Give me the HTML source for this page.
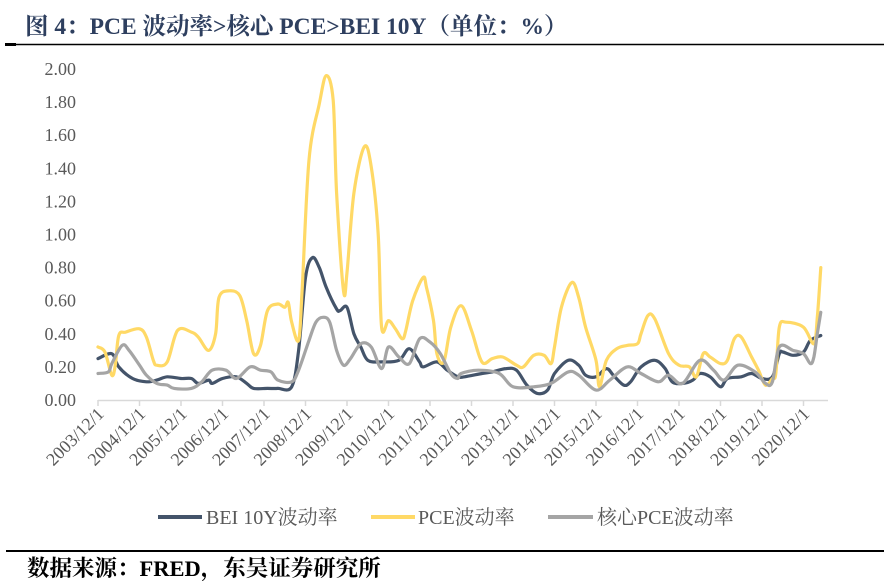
<!DOCTYPE html>
<html><head><meta charset="utf-8"><style>
body{margin:0;background:#fff;}
svg{display:block;}
</style></head><body>
<svg width="884" height="585" viewBox="0 0 884 585" xmlns="http://www.w3.org/2000/svg">
<text x="25" y="34" font-family="'Liberation Serif','Noto Serif CJK SC',serif" font-weight="bold" font-size="23.5" fill="#2e3f5f">图 4：PCE 波动率&gt;核心 PCE&gt;BEI 10Y（单位：%）</text>
<line x1="5" y1="44.5" x2="884" y2="44.5" stroke="#000" stroke-width="1.5"/>
<rect x="5" y="43" width="11" height="3" fill="#000"/>
<g id="yaxis"></g>
<g id="xaxis"></g>
<g id="series"></g>
<g font-family="'Liberation Serif','Noto Serif CJK SC',serif" font-size="20" fill="#595959">
<g><line x1="158" y1="517" x2="202" y2="517" stroke="#44546a" stroke-width="4"/><text x="206" y="524">BEI 10Y波动率</text></g>
<g><line x1="371" y1="517" x2="415" y2="517" stroke="#ffd966" stroke-width="4"/><text x="418" y="524">PCE波动率</text></g>
<g><line x1="548" y1="517" x2="593" y2="517" stroke="#a5a5a5" stroke-width="4"/><text x="597" y="524">核心PCE波动率</text></g>
</g>
<line x1="6" y1="551" x2="884" y2="551" stroke="#000" stroke-width="2"/>
<text x="27" y="576" font-family="'Liberation Serif','Noto Serif CJK SC',serif" font-weight="bold" font-size="22.5" fill="#000">数据来源：FRED，东吴证券研究所</text>
</svg>
<script>
// months since 2003/12
const bMonths=[0,4,6,10,14,17,20,24,27,29,32,33,36,40,43,45,49,52,56,58,60,62,64,66,69,70,72,74,76,78,82,87,90,93,94,98,101,104,106,111,114,118,121,124,127,130,132,136,139,141,144,147,149,152,154,157,161,164,166,169,172,174,177,180,182,186,189,192,195,197,198,201,204,206,209];
const beiValues=[0.25,0.28,0.20,0.13,0.11,0.12,0.14,0.13,0.13,0.10,0.12,0.10,0.13,0.14,0.10,0.07,0.07,0.07,0.08,0.30,0.74,0.86,0.80,0.68,0.55,0.54,0.56,0.40,0.32,0.24,0.23,0.24,0.31,0.23,0.20,0.23,0.18,0.14,0.14,0.16,0.17,0.19,0.18,0.09,0.04,0.06,0.16,0.24,0.21,0.15,0.14,0.19,0.15,0.09,0.11,0.20,0.24,0.19,0.11,0.10,0.12,0.16,0.14,0.08,0.13,0.14,0.16,0.13,0.14,0.28,0.29,0.27,0.29,0.36,0.39];
const pMonths=[0,2,4,5,6,8,12,14,16,17,20,23,27,29,32,34,35,38,41,43,45,47,49,52,54,55,56,58,59,61,64,66,68,69,71,72,74,77,79,81,82,84,86,88,89,91,94,95,97,98,100,102,105,108,111,114,117,121,123,126,129,131,132,134,137,139,141,144,145,147,150,153,156,157,159,161,165,168,171,173,175,177,180,182,184,186,189,191,193,195,196,197,199,204,207,208,209];
const pceValues=[0.32,0.29,0.15,0.21,0.39,0.41,0.43,0.38,0.24,0.21,0.23,0.42,0.41,0.38,0.30,0.40,0.62,0.66,0.63,0.48,0.28,0.33,0.54,0.58,0.56,0.59,0.47,0.36,0.65,1.45,1.79,1.96,1.81,1.25,0.66,0.77,1.25,1.53,1.41,1.01,0.44,0.48,0.43,0.37,0.42,0.60,0.74,0.68,0.48,0.28,0.23,0.44,0.57,0.42,0.23,0.25,0.26,0.21,0.20,0.27,0.27,0.22,0.32,0.56,0.71,0.62,0.44,0.24,0.08,0.24,0.31,0.33,0.34,0.40,0.51,0.49,0.28,0.21,0.20,0.14,0.28,0.26,0.22,0.24,0.37,0.38,0.26,0.18,0.09,0.13,0.16,0.44,0.47,0.44,0.34,0.50,0.80];
const cMonths=[0,3,4,7,9,12,14,17,20,22,27,30,33,37,40,44,47,50,52,56,58,61,63,65,67,69,71,73,76,79,82,84,87,90,93,96,99,102,104,105,110,116,120,126,131,136,139,144,148,153,157,162,165,169,174,178,181,185,190,193,195,197,201,204,206,207,208,209];
const coreValues=[0.16,0.17,0.22,0.33,0.30,0.21,0.15,0.10,0.09,0.07,0.07,0.11,0.18,0.18,0.13,0.20,0.18,0.17,0.12,0.11,0.18,0.36,0.47,0.50,0.47,0.30,0.21,0.25,0.34,0.32,0.19,0.32,0.26,0.22,0.37,0.35,0.28,0.16,0.13,0.16,0.18,0.16,0.08,0.08,0.10,0.17,0.15,0.06,0.12,0.20,0.16,0.11,0.15,0.10,0.24,0.18,0.12,0.21,0.17,0.10,0.11,0.32,0.30,0.28,0.22,0.26,0.40,0.53];
const yTicks=[0,0.2,0.4,0.6,0.8,1.0,1.2,1.4,1.6,1.8,2.0];
const xTickLabels=["2003/12/1","2004/12/1","2005/12/1","2006/12/1","2007/12/1","2008/12/1","2009/12/1","2010/12/1","2011/12/1","2012/12/1","2013/12/1","2014/12/1","2015/12/1","2016/12/1","2017/12/1","2018/12/1","2019/12/1","2020/12/1"];

const NS="http://www.w3.org/2000/svg";
const X0=98, YEARW=41.5, Y0=400, YTOP=69;
function xs(m){return X0+m/12*YEARW;}
function ys(v){return Y0-(v/2)*(Y0-YTOP);}
const font="'Liberation Serif','Noto Serif CJK SC',serif";
const yg=document.getElementById('yaxis');
yTicks.forEach(v=>{
  const t=document.createElementNS(NS,'text');
  
  
  t.setAttribute('x',76);t.setAttribute('y',ys(v)+6);
  t.setAttribute('text-anchor','end');t.setAttribute('font-family',font);
  t.setAttribute('font-size','18');t.setAttribute('fill','#595959');
  t.textContent=v.toFixed(2);yg.appendChild(t);
});
const xg=document.getElementById('xaxis');
const ax=document.createElementNS(NS,'line');


ax.setAttribute('x1',X0);ax.setAttribute('x2',828);ax.setAttribute('y1',Y0+0.5);ax.setAttribute('y2',Y0+0.5);
ax.setAttribute('stroke','#d9d9d9');ax.setAttribute('stroke-width','1.5');xg.appendChild(ax);
xTickLabels.forEach((lab,i)=>{
  const x=xs(i*12);
  const tk=document.createElementNS(NS,'line');
  
  
  tk.setAttribute('x1',x);tk.setAttribute('x2',x);tk.setAttribute('y1',Y0);tk.setAttribute('y2',Y0+6);
  tk.setAttribute('stroke','#d9d9d9');tk.setAttribute('stroke-width','1.5');xg.appendChild(tk);
  const t=document.createElementNS(NS,'text');
  
  
  t.setAttribute('text-anchor','end');t.setAttribute('font-family',font);
  t.setAttribute('font-size','18');t.setAttribute('fill','#595959');
  t.setAttribute('transform','translate('+(x+7)+','+(Y0+15)+') rotate(-45)');
  t.textContent=lab;xg.appendChild(t);
});
function smooth(pts){
  let d='M'+pts[0][0].toFixed(1)+','+pts[0][1].toFixed(1);
  for(let i=0;i<pts.length-1;i++){
    const p0=pts[i-1]||pts[i],p1=pts[i],p2=pts[i+1],p3=pts[i+2]||p2;
    const c1=[p1[0]+(p2[0]-p0[0])/6,p1[1]+(p2[1]-p0[1])/6];
    const c2=[p2[0]-(p3[0]-p1[0])/6,p2[1]-(p3[1]-p1[1])/6];
    d+='C'+c1[0].toFixed(1)+','+c1[1].toFixed(1)+' '+c2[0].toFixed(1)+','+c2[1].toFixed(1)+' '+p2[0].toFixed(1)+','+p2[1].toFixed(1);
  }
  return d;
}
const sg=document.getElementById('series');
function draw(months,vals,color,name){
  const p=document.createElementNS(NS,'path');
  
  
  p.setAttribute('d',smooth(months.map((m,i)=>[xs(m),ys(vals[i])])));
  p.setAttribute('fill','none');p.setAttribute('stroke',color);
  p.setAttribute('stroke-width','3.2');p.setAttribute('stroke-linejoin','round');p.setAttribute('stroke-linecap','round');
  sg.appendChild(p);
}
draw(bMonths,beiValues,'#44546a','bei-10y-line');
draw(pMonths,pceValues,'#ffd966','pce-line');
draw(cMonths,coreValues,'#a5a5a5','core-pce-line');
</script>
</body></html>
